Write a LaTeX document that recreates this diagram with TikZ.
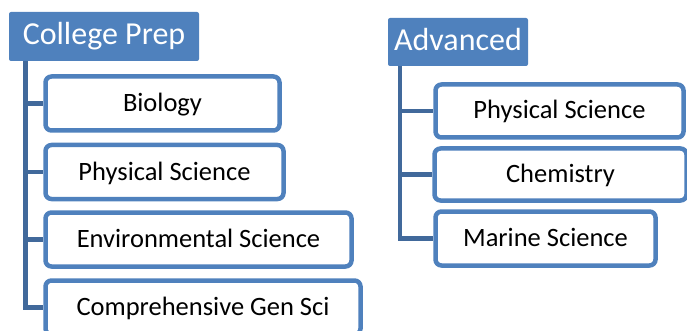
\documentclass[tikz,border=0pt]{standalone}
\usepackage{fontspec}
\setmainfont{Carlito}
\usepackage{tikz}
\usetikzlibrary{calc,positioning,backgrounds}
\definecolor{hdblue}{HTML}{4F81BD}
\definecolor{trunkblue}{HTML}{41699B}

\begin{document}
\begin{tikzpicture}[x=1pt,y=-1pt]
\tikzstyle{header}=[rectangle, fill=hdblue, text=white, rounded corners=2pt,
                    inner sep=0pt, text height=20pt, text depth=3pt,
                    font=\fontsize{32}{36}\selectfont]
\tikzstyle{course}=[rectangle, draw=hdblue, line width=4.5pt, fill=white,
                    rounded corners=6pt, inner sep=0pt, minimum height=54pt,
                    text height=18pt, text depth=2pt,
                    font=\fontsize{26.5}{30}\selectfont]
\tikzstyle{trunk}=[draw=trunkblue, line width=4.5pt]
\useasboundingbox (0,0) rectangle (687,331);
% college prep column
\node[header, minimum width=190pt, minimum height=49pt] (cp) at (104,36.5){College Prep};
\coordinate (cpt) at (25.5,61);
\node[course, minimum width=234pt] (cbio) at (162.5,103.5){Biology};
\node[course, minimum width=238pt] (cphys) at (164.5,172){Physical Science};
\node[course, minimum width=306pt] (cenv) at (198.5,239.5){Environmental Science};
\node[course, minimum width=315pt] (ccomp) at (203,307.5){Comprehensive Gen Sci};
% advanced column
\node[header, minimum width=140pt, minimum height=48pt] (adv) at (458,42){Advanced};
\coordinate (advt) at (400,66);
\node[course, minimum width=248pt, minimum height=53pt] (aphys) at (559.5,111){Physical Science};
\node[course, minimum width=252pt, minimum height=52pt] (achem) at (560.5,174.5){Chemistry};
\node[course, minimum width=220pt] (amar) at (545.5,238.5){Marine Science};
\begin{scope}[on background layer]
\foreach \c in {cbio,cphys,cenv,ccomp}{\draw[trunk] (cpt) |- (\c.west);}
\foreach \c in {aphys,achem,amar}{\draw[trunk] (advt) |- (\c.west);}
\end{scope}
\end{tikzpicture}
\end{document}
